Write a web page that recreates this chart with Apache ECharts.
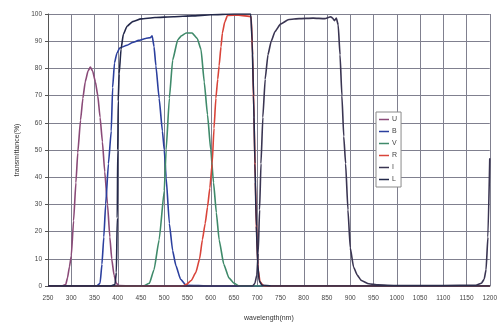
<!DOCTYPE html>
<html>
<head>
<meta charset="utf-8">
<script src="https://cdn.jsdelivr.net/npm/echarts@6/dist/echarts.min.js"></script>
<style>
  html, body { margin: 0; padding: 0; background: #fff; }
  #chart { width: 500px; height: 327px; }
</style>
</head>
<body>
<div id="chart"></div>
<script>
// Filter transmission curves: wavelength (nm) and transmittance (%) per filter
const filterNames = ['U', 'B', 'V', 'R', 'I', 'L'];

const uWave = [250, 280, 288, 292, 296, 300, 305, 310, 314, 320, 325, 330, 336, 341, 346, 352, 357, 362, 367, 372, 378, 383, 387, 392, 397, 402, 450, 1200];
const uTrans = [0, 0, 0.5, 3, 7, 11, 24, 38, 49, 61, 69, 75, 79, 80.5, 79, 75, 70, 62, 53, 42, 30, 18, 10, 4, 1, 0.2, 0, 0];

const bWave = [250, 355, 362, 366, 370, 374, 380, 386, 389, 393, 398, 404, 420, 432, 445, 460, 470, 474, 478, 482, 489, 496, 500, 504, 511, 518, 525, 535, 547, 600, 1200];
const bTrans = [0, 0, 1, 8, 18, 30, 45, 57, 73, 82, 85.5, 87.5, 88.5, 89.5, 90.3, 91, 91.3, 92, 88, 81, 69, 57, 50, 40, 23, 13, 7.5, 2.5, 0.3, 0, 0];

const vWave = [250, 455, 468, 478, 489, 500, 504, 511, 518, 529, 537, 547, 560, 571, 579, 586, 593, 600, 606, 612, 618, 628, 639, 650, 661, 1200];
const vTrans = [0, 0, 1, 6, 17, 35, 50, 69, 83, 90.5, 92, 93, 93, 91, 87, 75, 63, 50, 38, 27, 17, 8, 3, 1, 0, 0];

const rWave = [250, 540, 547, 558, 568, 576, 582, 588, 593, 598, 603, 607, 611, 615, 618, 622, 625, 630, 636, 660, 687, 690, 693, 696, 699, 702, 706, 714, 1200];
const rTrans = [0, 0, 0.5, 2, 5, 10, 17, 23, 29, 36, 45, 58, 69, 76, 81, 88, 93, 97, 99.5, 99.6, 99, 85, 62, 38, 17, 6, 1.5, 0, 0];

const iWave = [250, 690, 695, 699, 702, 705, 708, 712, 717, 723, 730, 738, 750, 768, 790, 820, 845, 858, 862, 866, 870, 874, 878, 882, 886, 890, 895, 900, 907, 915, 924, 940, 960, 1000, 1100, 1170, 1182, 1188, 1192, 1196, 1200];
const iTrans = [0, 0, 1, 4, 12, 28, 45, 62, 76, 85, 90, 93.5, 96.3, 98, 98.3, 98.5, 98.3, 99, 98.5, 97.5, 98.5, 96, 85, 70, 55, 45, 28, 14, 7, 4, 2, 0.8, 0.4, 0.2, 0.2, 0.3, 1, 2.5, 6, 18, 47];

const lWave = [250, 385, 394, 397, 399, 400, 401, 403, 407, 412, 420, 432, 450, 480, 520, 560, 600, 650, 686, 689, 692, 695, 698, 701, 704, 710, 730, 1200];
const lTrans = [0, 0, 0.5, 5, 25, 50, 68, 78, 87, 92.5, 95.5, 97.2, 98.2, 98.7, 99, 99.3, 99.7, 100, 100, 90, 70, 45, 22, 8, 2, 0.3, 0, 0];

const filterColors = ['#8a4a78', '#2b3f9e', '#3f8a6a', '#d9443a', '#3a3552', '#23284a'];

const waves = [uWave, bWave, vWave, rWave, iWave, lWave];
const trans = [uTrans, bTrans, vTrans, rTrans, iTrans, lTrans];

const pairs = (xs, ys) => xs.map((x, k) => [x, ys[k]]);

const series = filterNames.map((name, k) => ({
  name: name,
  type: 'line',
  data: pairs(waves[k], trans[k]),
  showSymbol: false,
  smooth: 0.15,
  smoothMonotone: 'x',
  lineStyle: { width: 1.6, color: filterColors[k] },
  itemStyle: { color: filterColors[k] },
  z: 3 + k
}));

const chart = echarts.init(document.getElementById('chart'), null, { renderer: 'canvas' });
chart.setOption({
  animation: false,
  backgroundColor: '#ffffff',
  grid: { left: 48, right: 8, top: 14, bottom: 36 },
  xAxis: {
    type: 'value',
    min: 250,
    max: 1200,
    interval: 50,
    name: 'wavelength(nm)',
    nameLocation: 'middle',
    nameGap: 29,
    nameTextStyle: { fontSize: 7, color: '#333', fontFamily: 'Liberation Sans' },
    axisLine: { lineStyle: { color: '#222', width: 1.2 } },
    axisTick: { show: false },
    axisLabel: { fontSize: 6.5, color: '#444', margin: 9, fontFamily: 'Liberation Sans', formatter: v => String(v) },
    splitLine: { show: true, lineStyle: { color: '#80808f', width: 1 } }
  },
  yAxis: {
    type: 'value',
    min: 0,
    max: 100,
    interval: 10,
    name: 'transmittance(%)',
    nameLocation: 'middle',
    nameGap: 21,
    nameTextStyle: { fontSize: 7, color: '#333', fontFamily: 'Liberation Sans' },
    axisLine: { show: true, lineStyle: { color: '#555', width: 1 } },
    axisTick: { show: true, length: 3, lineStyle: { color: '#555' } },
    axisLabel: { fontSize: 6.5, color: '#444', margin: 6, fontFamily: 'Liberation Sans' },
    splitLine: { show: true, lineStyle: { color: '#80808f', width: 1 } }
  },
  legend: {
    orient: 'vertical',
    left: 376,
    top: 112,
    data: filterNames,
    icon: 'rect',
    itemWidth: 10,
    itemHeight: 1.5,
    itemGap: 3,
    padding: [3, 4, 3, 3],
    backgroundColor: '#ffffff',
    borderColor: '#8a8a8a',
    borderWidth: 1,
    textStyle: { fontSize: 7, color: '#444', lineHeight: 9, fontFamily: 'Liberation Sans', padding: [0, 0, 0, -2] }
  },
  series: series
});
</script>
</body>
</html>
